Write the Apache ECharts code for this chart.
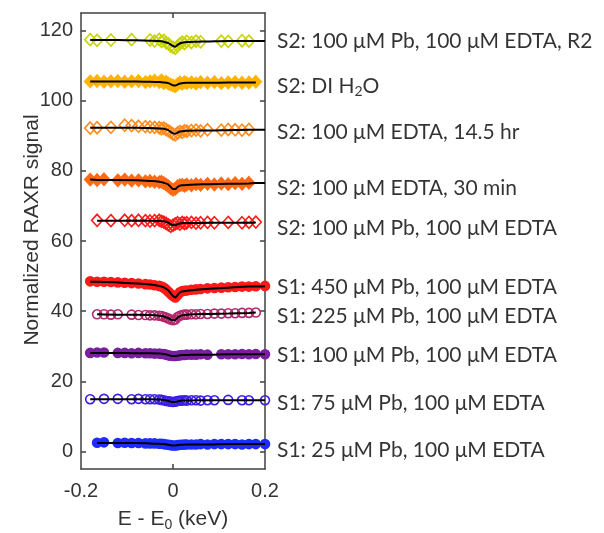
<!DOCTYPE html>
<html>
<head>
	<meta charset="utf-8"/>
	<title>RAXR</title>
	<script src="https://cdn.jsdelivr.net/npm/echarts@6/dist/echarts.min.js"></script>
</head>
<body style="margin: 0; background: #fff;">

	<div id="chart" style="width: 604px; height: 533px;"></div>

	<script>
		// energy grid of the measured points (keV)
		var energy = [-0.18, -0.165, -0.15, -0.135, -0.12, -0.105, -0.09, -0.075, -0.06, -0.05, -0.04, -0.03,
			-0.025, -0.02, -0.015, -0.01, -0.005, 0, 0.005, 0.01, 0.015, 0.02, 0.025, 0.03,
			0.04, 0.05, 0.06, 0.075, 0.09, 0.105, 0.12, 0.135, 0.15, 0.165, 0.18, 0.2];
		// energy grid of the fit curves (keV)
		var fitEnergy = [-0.18, -0.165, -0.12, -0.08, -0.05, -0.03, -0.02, -0.01, -0.005, 0, 0.005,
			0.01, 0.015, 0.02, 0.03, 0.05, 0.08, 0.12, 0.165, 0.18, 0.2];

		var names = [
			'S2: 100 μM Pb, 100 μM EDTA, R2',
			'S2: DI H{sub|2}O',
			'S2: 100 μM EDTA, 14.5 hr',
			'S2: 100 μM EDTA, 30 min',
			'S2: 100 μM Pb, 100 μM EDTA',
			'S1: 450 μM Pb, 100 μM EDTA',
			'S1: 225 μM Pb, 100 μM EDTA',
			'S1: 100 μM Pb, 100 μM EDTA',
			'S1: 75 μM Pb, 100 μM EDTA',
			'S1: 25 μM Pb, 100 μM EDTA'
		];
		// where each name sits on the signal axis
		var labelY = [116.9, 104.1, 90.9, 75.1, 63.7, 46.9, 38.6, 27.4, 13.7, 0.3];

		var colors = ['#c8d400', '#ffb400', '#ff8c1e', '#ff6a14', '#ff1a1a', '#ff1a1a', '#b4286e', '#7a1fa0', '#3c1ee6', '#1e2cff'];
		var symbols = ['diamond', 'diamond', 'diamond', 'diamond', 'diamond', 'circle', 'circle', 'circle', 'circle', 'circle'];
		var filled = [false, true, false, true, false, true, false, true, false, true];

		var signal = [
			[117.4, 117.2, null, 117.3, null, null, 117.4, null, null, 117.3, 117.0, 117.5, 116.9, 117.2, 116.5, 116.2, 115.6, 115.2, 114.9, 115.6, 116.2, 116.7, 116.3, 116.9, 116.6, 117.0, 116.8, null, null, 117.0, 116.9, null, 117.1, 117.0, null, null],
			[105.5, 105.6, 105.4, 105.5, 105.6, 105.4, 105.5, 105.6, 105.3, 105.5, 105.7, 105.3, 105.8, 105.0, 105.4, 104.9, 104.6, 104.3, 104.1, 104.7, 105.2, 104.8, 105.3, 105.0, 105.2, 104.9, 105.3, 105.1, 105.3, 105.0, 105.2, 105.3, 105.1, 105.2, 105.4, null],
			[92.2, 92.3, null, 92.4, null, 93.0, 92.9, 92.7, 92.6, 92.5, 92.4, 92.3, 92.0, 92.2, 91.8, 91.4, 91.0, 90.5, 90.3, 90.8, 91.2, 91.0, 91.4, 91.3, 91.5, 91.6, 91.4, 91.7, null, 91.6, 91.8, 91.7, 91.6, 91.8, null, null],
			[77.5, 77.4, 77.6, null, 77.3, 77.5, 77.2, 77.3, 77.0, 77.1, 76.9, 76.8, 76.9, 76.5, 76.1, 75.6, 75.0, 74.6, 74.9, 75.6, 75.9, 76.0, 75.7, 76.1, 75.9, 76.2, 76.0, 76.3, 76.1, 76.4, 76.2, 76.5, 76.3, 76.6, null, null],
			[null, 65.9, null, 65.8, null, 65.9, 65.8, 65.9, 65.8, 65.7, 65.8, 65.9, 65.6, 65.4, 65.0, 64.6, 64.2, 64.5, 64.9, 65.2, 64.8, 65.3, 65.0, 65.2, 65.3, 65.1, 65.2, 65.3, 65.2, null, 65.3, null, 65.2, 65.3, 65.4, null],
			[48.5, 48.4, 48.4, 48.3, 48.2, 48.1, 48.0, 47.9, 47.7, 47.6, 47.4, 47.2, 47.0, 46.7, 46.2, 45.5, 44.9, 44.3, 43.9, 44.6, 45.4, 45.7, 45.8, 45.9, 46.1, 46.2, 46.3, 46.5, 46.6, 46.7, 46.8, 46.9, 47.0, 47.0, 47.1, 47.2],
			[null, 39.1, 39.1, 39.0, 39.1, null, 39.0, 38.9, 38.9, 38.8, 38.8, 38.7, 38.6, 38.4, 38.2, 37.9, 37.6, 37.4, 37.6, 38.3, 38.7, 38.9, 39.0, 39.0, 39.1, 39.1, 39.2, 39.2, 39.3, 39.3, 39.4, 39.4, 39.5, 39.5, 39.6, null],
			[28.1, 28.2, 28.2, null, 28.1, 28.1, 28.0, 28.1, 28.0, 28.0, 27.9, 27.9, 27.8, 27.8, 27.6, 27.4, 27.3, 27.2, 27.2, 27.3, 27.4, 27.5, 27.5, 27.6, 27.6, 27.6, 27.7, 27.6, null, 27.7, 27.7, 27.7, 27.8, 27.7, 27.8, 27.7],
			[14.9, null, 15.0, null, 15.0, null, 14.9, 15.0, 14.9, 14.9, 14.9, 14.8, 14.7, 14.6, 14.4, 14.3, 14.2, 14.1, 14.2, 14.4, 14.5, 14.5, 14.6, 14.5, 14.6, 14.6, 14.5, 14.6, 14.6, null, 14.7, null, 14.6, 14.6, null, 14.6],
			[null, 2.5, 2.6, null, 2.4, 2.5, 2.4, 2.4, 2.3, 2.3, 2.3, 2.2, 2.2, 2.1, 2.0, 1.9, 1.8, 1.7, 1.7, 1.8, 1.9, 1.9, 2.0, 2.0, 2.0, 2.0, 2.1, 2.0, 2.1, 2.1, 2.1, 2.1, 2.0, 2.1, 2.1, 2.1]
		];

		var fits = [
			[117.3, 117.3, 117.3, 117.2, 117.1, 117.0, 116.8, 116.4, 116.0, 115.6, 115.4, 115.9, 116.3, 116.5, 116.7, 116.8, 116.9, 117.0, 117.0, 117.0, 117.0],
			[105.5, 105.5, 105.5, 105.5, 105.4, 105.3, 105.2, 105.0, 104.7, 104.4, 104.3, 104.6, 104.9, 105.0, 105.1, 105.1, 105.1, 105.2, 105.2, 105.2, null],
			[92.3, 92.3, 92.3, 92.3, 92.2, 92.1, 92.0, 91.6, 91.1, 90.7, 90.6, 90.9, 91.2, 91.3, 91.4, 91.5, 91.5, 91.6, 91.7, 91.7, 91.7],
			[77.5, 77.4, 77.4, 77.3, 77.1, 76.9, 76.6, 76.1, 75.4, 74.8, 74.8, 75.4, 75.8, 75.9, 76.0, 76.1, 76.2, 76.3, 76.4, 76.5, 76.5],
			[null, 65.8, 65.8, 65.8, 65.8, 65.7, 65.6, 65.2, 64.8, 64.5, 64.5, 64.8, 65.0, 65.1, 65.1, 65.1, 65.2, 65.2, 65.2, 65.3, null],
			[48.4, 48.4, 48.2, 47.9, 47.6, 47.2, 46.8, 45.9, 45.1, 44.3, 43.9, 44.6, 45.3, 45.6, 45.8, 46.1, 46.4, 46.7, 47.0, 47.0, 47.1],
			[null, 39.1, 39.0, 39.0, 38.9, 38.7, 38.5, 38.0, 37.6, 37.4, 37.5, 38.1, 38.6, 38.8, 39.0, 39.1, 39.2, 39.3, 39.5, 39.6, null],
			[28.1, 28.1, 28.1, 28.0, 28.0, 27.9, 27.8, 27.5, 27.3, 27.2, 27.2, 27.3, 27.4, 27.5, 27.5, 27.6, 27.6, 27.7, 27.7, 27.7, 27.7],
			[14.9, 14.9, 14.9, 14.9, 14.9, 14.8, 14.7, 14.4, 14.2, 14.1, 14.1, 14.3, 14.4, 14.5, 14.5, 14.6, 14.6, 14.6, 14.6, 14.6, 14.6],
			[null, 2.4, 2.4, 2.4, 2.3, 2.2, 2.1, 1.9, 1.8, 1.7, 1.7, 1.8, 1.9, 1.9, 2.0, 2.0, 2.0, 2.1, 2.1, 2.1, 2.1]
		];

		var yTicks = [0, 20, 40, 60, 80, 100, 120];
		var xTicks = [-0.2, 0, 0.2];

		function pairs (xs, ys) {
			var out = [];
			for (var i = 0; i < xs.length; i++) {
				if (ys[i] !== null) out.push([xs[i], ys[i]]);
			}
			return out;
		}

		var axisColor = '#404040';
		var series = [];

		for (var k = 0; k < signal.length; k++) {
			// markers
			series.push({
				type: 'scatter',
				data: pairs(energy, signal[k]),
				symbol: symbols[k],
				symbolSize: symbols[k] === 'diamond' ? [11, 12] : 9,
				clip: false,
				itemStyle: {
					color: filled[k] ? colors[k] : 'rgba(0,0,0,0)',
					borderColor: colors[k],
					borderWidth: 1.6,
					opacity: 1
				},
				z: 2
			});
			// fit curve
			series.push({
				type: 'line',
				data: pairs(fitEnergy, fits[k]),
				showSymbol: false,
				smooth: 0.3,
				lineStyle: { color: '#000', width: 2 },
				z: 3
			});
		}

		// sample names, right of the frame
		var labelData = [];
		for (var j = 0; j < names.length; j++) {
			labelData.push({
				value: [0.2, labelY[j]],
				label: {
					formatter: names[j]
				}
			});
		}
		series.push({
			type: 'scatter',
			data: labelData,
			symbolSize: 0,
			clip: false,
			silent: true,
			label: {
				show: true,
				position: 'right',
				distance: 12,
				fontFamily: 'Lato',
				fontSize: 21,
				color: '#000',
				rich: {
					sub: { fontFamily: 'Lato', fontSize: 14, color: '#000', padding: [10, 0, 0, 0] }
				}
			}
		});

		var tickLabelStyle = { fontFamily: 'Liberation Sans', fontSize: 20, color: '#333' };

		var option = {
			animation: false,
			grid: { left: 81, top: 13, width: 184, height: 456, outerBoundsMode: 'none' },
			xAxis: [
				{
					type: 'value',
					min: -0.2,
					max: 0.2,
					interval: 0.2,
					splitLine: { show: false },
					axisLine: { show: true, onZero: false, lineStyle: { color: axisColor, width: 1.5 } },
					axisTick: { inside: true, length: 5, lineStyle: { color: axisColor, width: 1.5 }, customValues: [0] },
					axisLabel: Object.assign({ margin: 12, customValues: xTicks, formatter: function (v) { return v === 0 ? '0' : String(v); } }, tickLabelStyle),
					name: 'E - E{sub|0} (keV)',
					nameLocation: 'middle',
					nameGap: 37,
					nameTextStyle: {
						fontFamily: 'Liberation Sans', fontSize: 21, color: '#333',
						rich: { sub: { fontFamily: 'Liberation Sans', fontSize: 14, color: '#333', padding: [12, 0, 0, 0] } }
					}
				},
				{
					type: 'value',
					position: 'top',
					min: -0.2,
					max: 0.2,
					interval: 0.2,
					splitLine: { show: false },
					axisLine: { show: true, onZero: false, lineStyle: { color: axisColor, width: 1.5 } },
					axisTick: { inside: true, length: 5, lineStyle: { color: axisColor, width: 1.5 }, customValues: [0] },
					axisLabel: { show: false }
				}
			],
			yAxis: [
				{
					type: 'value',
					min: -5,
					max: 125,
					splitLine: { show: false },
					axisLine: { show: true, onZero: false, lineStyle: { color: axisColor, width: 1.5 } },
					axisTick: { inside: true, length: 5, lineStyle: { color: axisColor, width: 1.5 }, customValues: yTicks },
					axisLabel: Object.assign({ margin: 8, customValues: yTicks }, tickLabelStyle),
					name: 'Normalized RAXR signal',
					nameLocation: 'middle',
					nameGap: 38,
					nameMoveOverlap: false,
					nameTextStyle: { fontFamily: 'Liberation Sans', fontSize: 21, color: '#333', padding: [0, 0, 0, 22] }
				},
				{
					type: 'value',
					position: 'right',
					min: -5,
					max: 125,
					splitLine: { show: false },
					axisLine: { show: true, onZero: false, lineStyle: { color: axisColor, width: 1.5 } },
					axisTick: { inside: true, length: 5, lineStyle: { color: axisColor, width: 1.5 }, customValues: yTicks },
					axisLabel: { show: false }
				}
			],
			series: series
		};

		var myChart = echarts.init(document.getElementById('chart'));
		myChart.setOption(option);
	</script>
</body>
</html>
